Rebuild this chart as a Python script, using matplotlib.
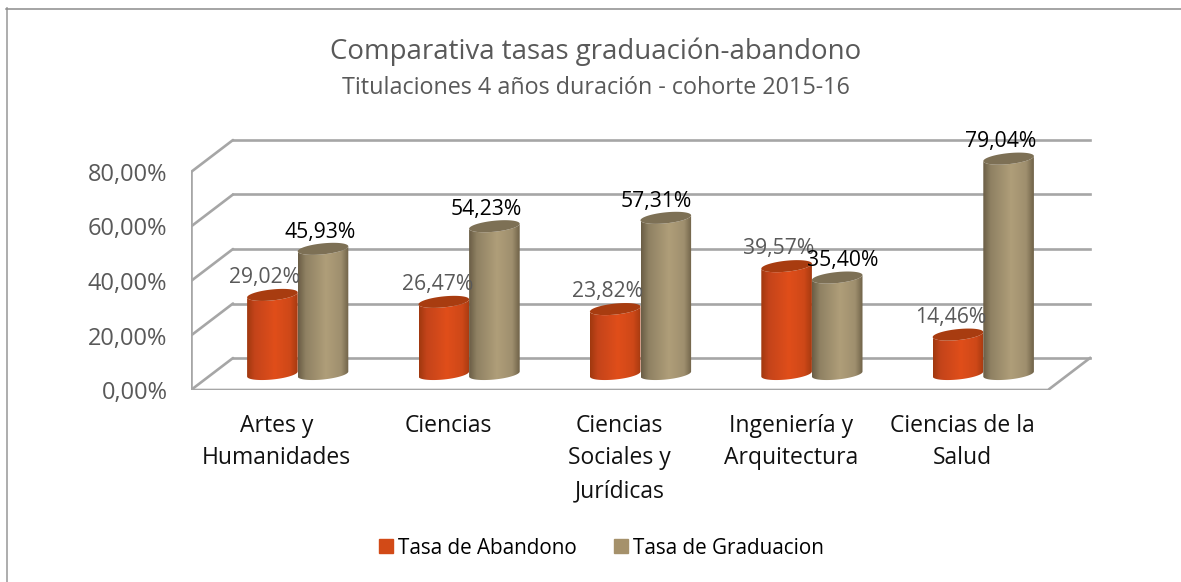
import numpy as np
import matplotlib
matplotlib.use("Agg")
import matplotlib.pyplot as plt
from matplotlib.colors import LinearSegmentedColormap
from matplotlib.lines import Line2D
from matplotlib.patches import Patch, PathPatch
from matplotlib.path import Path

plt.rcParams['font.family'] = ['Open Sans', 'DejaVu Sans']

# Data
categories = ['Artes y\nHumanidades', 'Ciencias', 'Ciencias\nSociales y\nJurídicas',
              'Ingeniería y\nArquitectura', 'Ciencias de la\nSalud']
abandono = [29.02, 26.47, 23.82, 39.57, 14.46]
graduacion = [45.93, 54.23, 57.31, 35.40, 79.04]
y_ticks = [0, 20, 40, 60, 80]
y_labels = ['0,00%', '20,00%', '40,00%', '60,00%', '80,00%']

W, H = 1181, 582
PX_X = 171.4  # pixels per category
PX_Y = 2.725  # pixels per percent point
depth_x = 42 / PX_X
depth_y = 32 / PX_Y
half_w = 25.3 / PX_X
ell_h = 5.5 / PX_Y
ell_tilt = 2.5 / PX_Y

GREY = '#595959'
GRID = '#A6A6A6'

cmap_ab = LinearSegmentedColormap.from_list('ab', [(0, '#A0380F'), (0.15, '#C4441A'), (0.55, '#E04E1A'),
                                                   (0.85, '#CE4818'), (1, '#A63A10')])
cmap_gr = LinearSegmentedColormap.from_list('gr', [(0, '#6A5D45'), (0.15, '#8F8163'), (0.55, '#AF9E79'),
                                                   (0.85, '#9F8F6E'), (1, '#6F6248')])
top_ab = '#A83C10'
top_gr = '#7D7055'

# label shifts next to each bar, in points
ab_dx = [-5.4, -4.7, -5.8, -5.8, -5.0]
gr_dx = [-1.8, -5.8, -7.2, 4.3, -5.8]

fig = plt.figure(figsize=(W / 100, H / 100), dpi=100)
# the frame only shows on the left and top, it is cut off at the other sides
fig.add_artist(Line2D([6.5 / W, 6.5 / W], [0, 1 - 8 / H], color='#A0A0A0', lw=1.2))
fig.add_artist(Line2D([6 / W, 1], [1 - 8.5 / H, 1 - 8.5 / H], color='#8C8C8C', lw=1.1))

ax = fig.add_axes([191 / W, (H - 390) / H, 5.3 * PX_X / W, 100 * PX_Y / H])
ax.set_xlim(0, 5.3)
ax.set_ylim(0, 100)
ax.set_autoscale_on(False)
ax.patch.set_alpha(0)
for s in ax.spines.values():
    s.set_visible(False)

# walls and floor
lw_grid = 1.9
for v in y_ticks:
    ax.plot([0, depth_x], [v, v + depth_y], color=GRID, lw=lw_grid, zorder=1, solid_capstyle='round')
    ax.plot([depth_x, 5 + depth_x], [v + depth_y, v + depth_y], color=GRID, lw=lw_grid, zorder=1)
ax.plot([0, 0], [0, 80], color=GRID, lw=lw_grid, zorder=1)
ax.plot([0, 5, 5 + depth_x], [0, 0, depth_y], color=GRID, lw=lw_grid, zorder=1)


def ellipse(cx, cy, t):
    return cx + half_w * np.cos(t), cy + ell_h * np.sin(t) + ell_tilt * np.cos(t)


def cylinder(cx, value, cmap, top_color, z):
    base = depth_y / 2
    tt = np.linspace(np.pi, 2 * np.pi, 40)
    bx, by = ellipse(cx, base, tt)
    tx, ty = ellipse(cx, base + value, tt[::-1])
    verts = np.column_stack([np.r_[bx, tx], np.r_[by, ty]])
    body = PathPatch(Path(np.vstack([verts, verts[0]])), facecolor='none', edgecolor='none', zorder=z)
    ax.add_patch(body)
    grad = np.linspace(0, 1, 128).reshape(1, -1)
    im = ax.imshow(grad, cmap=cmap, aspect='auto', zorder=z, interpolation='bilinear',
                   extent=[cx - half_w, cx + half_w, 0, base + value + ell_h + ell_tilt])
    im.set_clip_path(body)
    ta = np.linspace(0, 2 * np.pi, 80)
    ex, ey = ellipse(cx, base + value, ta)
    ax.fill(ex, ey, color=top_color, lw=0, zorder=z + 0.5)


# bars, the shorter one of each pair goes behind
for i in range(len(categories)):
    center = i + 0.5 + depth_x / 2
    pair = [(abandono[i], center - half_w, cmap_ab, top_ab), (graduacion[i], center + half_w, cmap_gr, top_gr)]
    pair.sort(key=lambda p: p[0])
    for k, (val, cx, cm, tc) in enumerate(pair):
        cylinder(cx, val, cm, tc, 3 + k)

# data labels
for i in range(len(categories)):
    center = i + 0.5 + depth_x / 2
    ax.annotate(f'{abandono[i]:.2f}%'.replace('.', ','), (center - half_w, depth_y / 2 + abandono[i]),
                xytext=(ab_dx[i], 12.5), textcoords='offset points', ha='center', va='center',
                fontsize=15.2, color=GREY, zorder=10)
    ax.annotate(f'{graduacion[i]:.2f}%'.replace('.', ','), (center + half_w, depth_y / 2 + graduacion[i]),
                xytext=(gr_dx[i], 12), textcoords='offset points', ha='center', va='center',
                fontsize=15.2, color='black', zorder=10)

# axes text
ax.set_yticks(y_ticks)
ax.set_yticklabels(y_labels, fontsize=17, color=GREY)
ax.set_xticks(np.arange(len(categories)) + 0.5)
ax.set_xticklabels(categories, fontsize=16.5, color='#111111', linespacing=1.49)
ax.tick_params(axis='both', length=0)
ax.tick_params(axis='y', pad=17)
ax.tick_params(axis='x', pad=17)

fig.text(596 / W, 1 - 52 / H, 'Comparativa tasas graduación-abandono', ha='center', va='center',
         fontsize=19.9, color=GREY)
fig.text(596 / W, 1 - 88 / H, 'Titulaciones 4 años duración - cohorte 2015-16', ha='center', va='center',
         fontsize=16.8, color=GREY)

handles = [Patch(color='#D24A17', label='Tasa de Abandono'), Patch(color='#A5916B', label='Tasa de Graduacion')]
fig.legend(handles=handles, loc='center', bbox_to_anchor=(601 / W, 1 - 548 / H), ncol=2, frameon=False,
           fontsize=14.9, handlelength=0.68, handleheight=0.68, handletextpad=0.24, columnspacing=1.8)

fig.savefig('out.png', dpi=100)
